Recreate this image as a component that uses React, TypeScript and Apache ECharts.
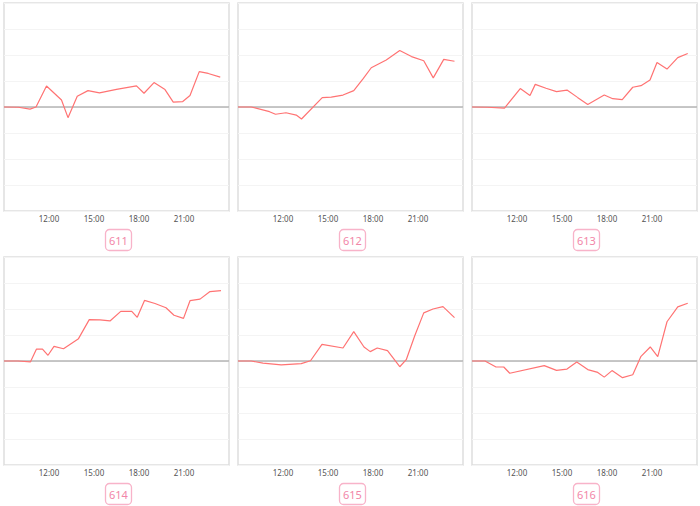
import React, { useEffect, useRef } from "react";
import * as echarts from "echarts";

const PANEL_NAMES = ["611", "612", "613", "614", "615", "616"];

const TIMES_611 = ["09:00","09:58","10:44","11:08","11:50","12:50","13:16","13:53","14:36","15:22","16:30","17:50","18:20","19:00","19:44","20:17","20:55","21:24","22:01","22:37","23:25"];
const VALUES_611 = [0,-0.01,-0.08,0,0.81,0.27,-0.41,0.41,0.63,0.54,0.68,0.81,0.53,0.94,0.67,0.19,0.21,0.44,1.36,1.29,1.15];

const TIMES_612 = ["09:00","09:53","11:06","11:30","12:12","12:53","13:14","14:37","15:13","16:00","16:43","17:20","17:53","18:53","19:47","20:34","21:23","22:01","22:43","23:26"];
const VALUES_612 = [0,0,-0.18,-0.28,-0.22,-0.31,-0.46,0.36,0.38,0.46,0.63,1.08,1.51,1.81,2.17,1.94,1.78,1.12,1.83,1.76];

const TIMES_613 = ["09:00","10:02","11:10","12:13","12:52","13:13","13:56","14:38","15:20","16:02","16:43","17:49","18:23","19:01","19:43","20:16","20:52","21:20","22:00","22:43","23:23"];
const VALUES_613 = [0,-0.01,-0.04,0.71,0.44,0.87,0.72,0.59,0.65,0.37,0.10,0.46,0.32,0.28,0.76,0.82,1.04,1.71,1.46,1.90,2.06];

const TIMES_614 = ["09:00","09:56","10:46","11:10","11:34","11:56","12:20","12:58","13:58","14:41","15:24","16:04","16:47","17:31","17:53","18:22","19:04","19:48","20:20","20:58","21:24","22:04","22:44","23:28"];
const VALUES_614 = [0,0,-0.03,0.46,0.46,0.22,0.56,0.47,0.86,1.59,1.58,1.54,1.91,1.91,1.68,2.33,2.21,2.05,1.76,1.64,2.32,2.38,2.67,2.71];

const TIMES_615 = ["09:00","09:53","10:40","11:53","13:13","13:50","14:36","16:00","16:43","17:24","17:49","18:17","18:58","19:47","20:13","20:47","21:23","22:00","22:40","23:26"];
const VALUES_615 = [0,0,-0.08,-0.15,-0.1,0.01,0.64,0.5,1.13,0.54,0.36,0.5,0.4,-0.22,0.05,0.97,1.85,2.0,2.09,1.67];

const TIMES_616 = ["09:00","09:52","10:36","11:07","11:31","13:49","14:38","15:20","15:59","16:43","17:23","17:49","18:20","19:02","19:43","20:16","20:53","21:23","22:00","22:43","23:23"];
const VALUES_616 = [0,0,-0.23,-0.23,-0.47,-0.18,-0.36,-0.31,-0.04,-0.33,-0.44,-0.62,-0.37,-0.64,-0.53,0.18,0.54,0.17,1.51,2.08,2.22];

const X_TICK_LABELS = ["12:00", "15:00", "18:00", "21:00"];
const ZERO_LINE = [["09:00", 0], ["24:00", 0]];

const PANELS = [
  { times: TIMES_611, values: VALUES_611 },
  { times: TIMES_612, values: VALUES_612 },
  { times: TIMES_613, values: VALUES_613 },
  { times: TIMES_614, values: VALUES_614 },
  { times: TIMES_615, values: VALUES_615 },
  { times: TIMES_616, values: VALUES_616 },
];

function toHours(t: string): number {
  const [h, m] = t.split(":").map(Number);
  return h + m / 60;
}

export default function App() {
  const ref = useRef<HTMLDivElement>(null);
  useEffect(() => {
    if (!ref.current) return;
    const chart = echarts.init(ref.current, undefined, { renderer: "svg" });
    const colLefts = [4, 238, 472];
    const rowTops = [3, 257];
    const gw = 225;
    const gh = 208;
    const grids: any[] = [];
    const xAxes: any[] = [];
    const yAxes: any[] = [];
    const series: any[] = [];
    const titles: any[] = [];
    PANELS.forEach((p, i) => {
      const col = i % 3;
      const row = Math.floor(i / 3);
      grids.push({
        left: colLefts[col],
        top: rowTops[row],
        width: gw,
        height: gh,
        show: true,
        borderColor: "#dedede",
        borderWidth: 1.5,
        backgroundColor: "#fff",
      });
      xAxes.push({
        type: "value",
        gridIndex: i,
        min: 9,
        max: 24,
        interval: 3,
        axisLine: { show: false },
        axisTick: { show: false },
        splitLine: { show: false },
        axisLabel: {
          showMinLabel: false,
          showMaxLabel: false,
          fontSize: 8,
          color: "#555",
          margin: 3,
          fontFamily: "Noto Sans, sans-serif",
          formatter: (v: number) => {
            const s = (v < 10 ? "0" : "") + v + ":00";
            return X_TICK_LABELS.includes(s) ? s : "";
          },
        },
      });
      yAxes.push({
        type: "value",
        gridIndex: i,
        min: -4,
        max: 4,
        interval: 1,
        axisLine: { show: false },
        axisTick: { show: false },
        axisLabel: { show: false },
        splitLine: { show: true, lineStyle: { color: "#f4f4f4", width: 1 } },
      });
      series.push({
        type: "line",
        xAxisIndex: i,
        yAxisIndex: i,
        z: 1,
        silent: true,
        data: ZERO_LINE.map(([t, v]) => [toHours(t as string), v]),
        showSymbol: false,
        symbol: "none",
        lineStyle: { color: "#b5b5b5", width: 1.5 },
        itemStyle: { color: "#b5b5b5" },
      });
      series.push({
        type: "line",
        xAxisIndex: i,
        yAxisIndex: i,
        z: 3,
        data: p.times.map((t, k) => [toHours(t), p.values[k]]),
        showSymbol: false,
        symbol: "none",
        lineStyle: { color: "#ff7373", width: 1.2 },
        itemStyle: { color: "#ff7373" },
      });
      titles.push({
        text: PANEL_NAMES[i],
        left: colLefts[col] + gw / 2 - 11.5,
        top: row === 0 ? 229 : 483,
        padding: [6, 4, 5, 4],
        borderColor: "#f8b3c9",
        borderWidth: 1.3,
        borderRadius: 4,
        textStyle: {
          color: "#f286a8",
          fontSize: 11,
          fontWeight: "normal",
          fontFamily: "Noto Sans, sans-serif",
        },
      });
    });
    chart.setOption({
      animation: false,
      backgroundColor: "#fff",
      title: titles,
      grid: grids,
      xAxis: xAxes,
      yAxis: yAxes,
      series,
    });
    return () => chart.dispose();
  }, []);
  return (
    <div
      ref={ref}
      style={{ position: "fixed", left: 0, top: 0, width: 700, height: 506 }}
    />
  );
}
